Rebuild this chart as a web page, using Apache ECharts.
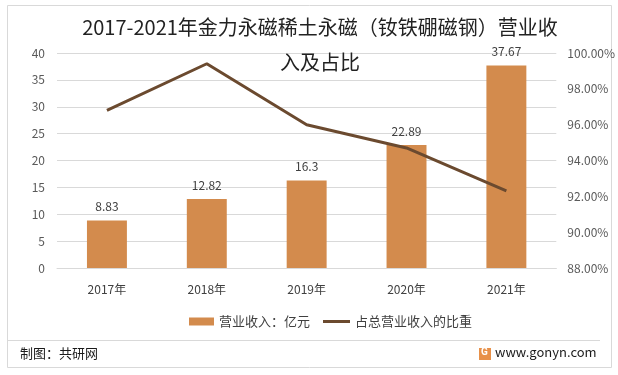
<!DOCTYPE html>
<html><head><meta charset="utf-8">
<script src="https://cdn.jsdelivr.net/npm/echarts@6/dist/echarts.min.js"></script>
<style>html,body{margin:0;padding:0;background:#fff}#c{width:618px;height:375px}</style>
</head><body><div id="c"></div>
<script>
var categories = ['2017年','2018年','2019年','2020年','2021年'];
var revenue = [8.83, 12.82, 16.3, 22.89, 37.67];
var share = [96.8, 99.4, 96.0, 94.7, 92.3];
var leftTicks = {min:0, max:40, interval:5};
var rightTicks = {min:88, max:100, interval:2};
var titleText = '2017-2021年金力永磁稀土永磁（钕铁硼磁钢）营业收\n入及占比';
var seriesNames = ['营业收入：亿元','占总营业收入的比重'];

var font = '"Noto Sans CJK SC","Noto Sans",sans-serif';
var chart = echarts.init(document.getElementById('c'), null, {renderer:'canvas'});
chart.setOption({
  backgroundColor:'#ffffff',
  animation:false,
  textStyle:{fontFamily:font},
  title:{text:titleText, left:315, textAlign:'center', top:5,
    textStyle:{fontSize:20, fontWeight:'normal', color:'#222222', lineHeight:35, fontFamily:font}},
  grid:{left:57, right:61, top:53, bottom:107, containLabel:false},
  legend:[
    {left:184, top:310, itemWidth:25, itemHeight:8, itemGap:5,
     textStyle:{fontSize:13, color:'#404040', fontFamily:font},
     data:[{name:seriesNames[0], icon:'rect'}]},
    {left:318, top:310, itemWidth:27, itemHeight:3, itemGap:5,
     textStyle:{fontSize:13, color:'#404040', fontFamily:font},
     data:[{name:seriesNames[1], icon:'rect', itemStyle:{color:'#6B4A2F'}}]}
  ],
  xAxis:{type:'category', data:categories,
    axisLine:{lineStyle:{color:'#d9d9d9'}}, axisTick:{show:false},
    axisLabel:{color:'#404040', fontSize:12, margin:15, fontFamily:font}},
  yAxis:[
    {type:'value', min:leftTicks.min, max:leftTicks.max, interval:leftTicks.interval,
     axisLine:{show:false}, axisTick:{show:false},
     splitLine:{lineStyle:{color:'#d9d9d9'}},
     axisLabel:{color:'#595959', fontSize:12, margin:12, fontFamily:font}},
    {type:'value', min:rightTicks.min, max:rightTicks.max, interval:rightTicks.interval,
     axisLine:{show:false}, axisTick:{show:false}, splitLine:{show:false},
     axisLabel:{color:'#595959', fontSize:12, margin:11, fontFamily:font,
       formatter:function(v){return v.toFixed(2)+'%';}}}
  ],
  series:[
    {name:seriesNames[0], type:'bar', data:revenue, barWidth:'40%',
     itemStyle:{color:'#D38B4D'},
     label:{show:true, position:'top', distance:8, color:'#404040', fontSize:12, fontFamily:font}},
    {name:seriesNames[1], type:'line', yAxisIndex:1, data:share, symbol:'none',
     lineStyle:{color:'#6B4A2F', width:3}, itemStyle:{color:'#6B4A2F'}}
  ],
  graphic:[
    {type:'rect', shape:{x:7.5, y:5.5, width:604, height:362}, style:{fill:'none', stroke:'#d9d9d9', lineWidth:1}, silent:true, z:-1},
    {type:'line', shape:{x1:8, y1:340.5, x2:600, y2:340.5}, style:{stroke:'#d9d9d9', lineWidth:1}},
    {type:'text', left:20, top:347, style:{text:'制图：共研网', fill:'#1a1a1a', fontSize:13, fontFamily:font}},
    {type:'rect', shape:{x:479, y:348, width:12, height:12}, style:{fill:'#E8914A'}},
    {type:'text', left:481, top:347, style:{text:'G', fill:'#fff', fontSize:10, fontWeight:'bold', fontFamily:'Roboto'}},
    {type:'text', left:495, top:346, style:{text:'www.gonyn.com', fill:'#1a1a1a', fontSize:13, fontFamily:font}}
  ]
});
</script></body></html>
